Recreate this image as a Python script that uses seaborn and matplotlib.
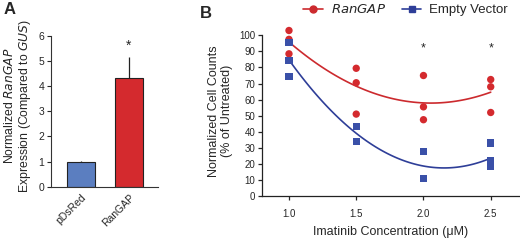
import numpy as np
import pandas as pd
import matplotlib
matplotlib.use('Agg')
import matplotlib.pyplot as plt
import seaborn as sns
from matplotlib.lines import Line2D

sns.set_style('white')
plt.rcParams['font.family'] = ['Liberation Sans', 'DejaVu Sans']

# ── DATA ──────────────────────────────────────────────────
BAR_LABELS = ['pDsRed', 'RanGAP']
BAR_VALUES = [1.0, 4.33]
BAR_ERR    = [0.04, 0.82]

RAN_X = [1.0, 1.0, 1.0, 1.5, 1.5, 1.5, 2.0, 2.0, 2.0, 2.5, 2.5, 2.5]
RAN_Y = [103, 97.5, 88.5, 79.5, 70.5, 51, 75, 55.5, 47.5, 72.5, 68, 52]
EV_X  = [1.0, 1.0, 1.0, 1.5, 1.5, 2.0, 2.0, 2.5, 2.5, 2.5, 2.5]
EV_Y  = [95.5, 84.5, 74.5, 43, 34, 27.5, 11, 33, 22, 20.5, 18.5]
STAR_X = [2.0, 2.5]

RED   = '#D42A2E'
BLUE  = '#5B7EC0'
DBLUE = '#3A50A8'
LRED  = '#CC2A2E'
LBLUE = '#2E3E98'

fig = plt.figure(figsize=(5.2, 2.4), dpi=100)

# ── Panel A ───────────────────────────────────────────────
axA = fig.add_axes([0.099, 0.222, 0.205, 0.63])
dfA = pd.DataFrame({'label': BAR_LABELS, 'value': BAR_VALUES})
sns.barplot(data=dfA, x='label', y='value', hue='label',
            palette=[BLUE, RED], saturation=1, width=0.58, edgecolor='#222222',
            linewidth=0.8, legend=False, ax=axA)
axA.errorbar([0, 1], BAR_VALUES, yerr=[[0, 0], BAR_ERR], fmt='none',
             ecolor='#222222', elinewidth=0.9, capsize=0)
axA.text(1, BAR_VALUES[1] + BAR_ERR[1] + 0.15, '*', ha='center', va='bottom',
         fontsize=10)
axA.set_ylim(0, 6)
axA.set_xlim(-0.6, 1.6)
axA.set_yticks(range(7))
axA.set_xlabel('')
axA.set_ylabel('Normalized $\\mathit{RanGAP}$\nExpression (Compared to $\\mathit{GUS}$)',
               fontsize=8.8, linespacing=1.15)
axA.yaxis.set_label_coords(-0.17, 0.535)
axA.tick_params(axis='y', labelsize=7.5, length=3, width=0.8, direction='out', left=True, pad=2)
axA.tick_params(axis='x', labelsize=7.5, length=0, pad=4)
plt.setp(axA.get_xticklabels(), rotation=45, ha='right', rotation_mode='anchor')
for s in ['top', 'right']:
    axA.spines[s].set_visible(False)
for s in ['left', 'bottom']:
    axA.spines[s].set_color('#333333')
    axA.spines[s].set_linewidth(0.8)
fig.text(0.006, 0.99, 'A', fontsize=12, fontweight='bold', va='top')

# ── Panel B ───────────────────────────────────────────────
axB = fig.add_axes([0.504, 0.183, 0.494, 0.71])
sns.regplot(x=RAN_X, y=RAN_Y, order=2, ci=None, scatter=False,
            line_kws={'color': LRED, 'lw': 1.2}, ax=axB)
sns.regplot(x=EV_X, y=EV_Y, order=2, ci=None, scatter=False,
            line_kws={'color': LBLUE, 'lw': 1.2}, ax=axB)
sns.scatterplot(x=RAN_X, y=RAN_Y, color=RED, marker='o', s=28,
                edgecolor='none', ax=axB, zorder=3)
sns.scatterplot(x=EV_X, y=EV_Y, color=DBLUE, marker='s', s=26,
                edgecolor='none', ax=axB, zorder=3)
for xs in STAR_X:
    axB.text(xs, 88, '*', ha='center', va='bottom', fontsize=9)
axB.set_xlim(0.80, 2.71)
axB.set_ylim(0, 106)
axB.set_xticks([1.0, 1.5, 2.0, 2.5])
axB.set_xticklabels(['1.0', '1.5', '2.0', '2.5'])
axB.set_yticks(range(0, 101, 10))
axB.spines['left'].set_bounds(0, 100)
for s in ['top', 'right']:
    axB.spines[s].set_visible(False)
for s in ['left', 'bottom']:
    axB.spines[s].set_color('#222222')
    axB.spines[s].set_linewidth(0.9)
axB.tick_params(labelsize=7, length=3, width=0.9, direction='out',
                left=True, bottom=True, pad=2)
axB.tick_params(axis='x', pad=6)
axB.set_xlabel('Imatinib Concentration (\u03bcM)', fontsize=9, labelpad=5)
axB.set_ylabel('Normalized Cell Counts\n(% of Untreated)', fontsize=9, labelpad=4)

handles = [Line2D([], [], color=LRED, marker='o', markersize=5, lw=1.2),
           Line2D([], [], color=LBLUE, marker='s', markersize=5, lw=1.2)]
fig.legend(handles, ['$\\mathit{RanGAP}$', 'Empty Vector'], loc='upper left',
           bbox_to_anchor=(0.56, 1.035), ncol=2, frameon=False, fontsize=9.5,
           handlelength=1.5, handletextpad=0.6, columnspacing=1.2)
fig.text(0.385, 0.975, 'B', fontsize=12, fontweight='bold', va='top')

fig.savefig('out.png', dpi=100)
